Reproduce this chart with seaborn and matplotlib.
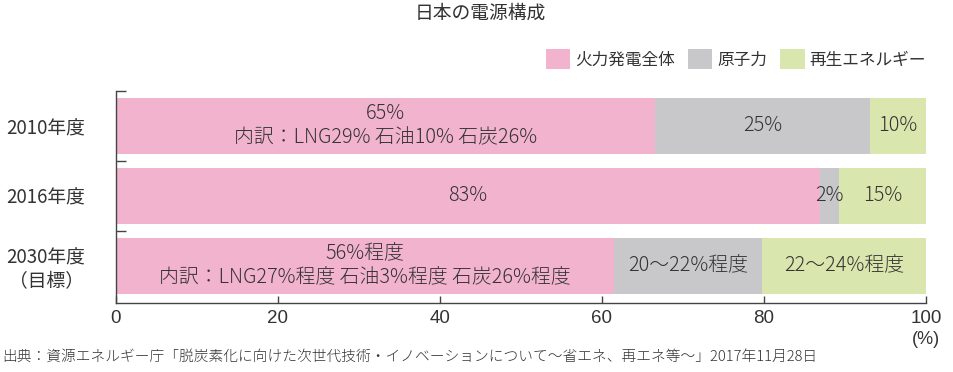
import numpy as np
import pandas as pd
import matplotlib.pyplot as plt
import seaborn as sns
from matplotlib.patches import Patch

# Data (segment widths, labels as printed)
years = ['2010年度', '2016年度', '2030年度\n（目標）']
thermal = [66.6, 86.9, 61.5]
nuclear = [26.5, 2.3, 18.3]
renewable = [6.9, 10.8, 20.2]
thermal_labels = ['65%\n内訳：LNG29% 石油10% 石炭26%', '83%',
                  '56%程度\n内訳：LNG27%程度 石油3%程度 石炭26%程度']
nuclear_labels = ['25%', '2%', '20〜22%程度']
renewable_labels = ['10%', '15%', '22〜24%程度']
sources = ['火力発電全体', '原子力', '再生エネルギー']
colors = ['#f2b3cf', '#c8c8ca', '#d9e6ad']

sns.set_theme(style='white')
plt.rcParams['font.family'] = ['Noto Sans CJK JP', 'DejaVu Sans']
text_color = '#333333'

df = pd.DataFrame({'year': years, 'thermal': thermal,
                   'nuclear': nuclear, 'renewable': renewable})
df['cum_nuclear'] = df['thermal'] + df['nuclear']
df['total'] = df['cum_nuclear'] + df['renewable']

fig = plt.figure(figsize=(9.54, 3.72), dpi=100)
ax = fig.add_axes([116 / 954, 1 - 303 / 372, 810 / 954, 212 / 372])

# stacked bars drawn back to front
for col, c in zip(['total', 'cum_nuclear', 'thermal'], colors[::-1]):
    sns.barplot(data=df, x=col, y='year', color=c, saturation=1,
                width=0.79, linewidth=0, ax=ax)

# labels inside segments
lbl = dict(ha='center', va='center', fontsize=14.3, color=text_color,
           fontweight='light')
for i in range(len(years)):
    t, n, r = thermal[i], nuclear[i], renewable[i]
    ax.text(t / 2, i, thermal_labels[i], linespacing=1.2, **lbl)
    ax.text(t + n / 2, i, nuclear_labels[i], **lbl)
    ax.text(t + n + r / 2, i, renewable_labels[i], **lbl)

ax.set_xlim(0, 100)
ax.set_ylim(2.53, -0.5)
ax.set_xlabel('')
ax.set_ylabel('')

ax.set_xticks([0, 20, 40, 60, 80, 100])
ax.set_xticklabels(['0', '20', '40', '60', '80', '100'],
                   family='Liberation Sans', fontsize=13.5, color=text_color)
ax.tick_params(axis='x', direction='in', length=5, width=1, color='#444444', pad=5)

ax.set_yticks([-0.5, 0.5, 1.5])
ax.set_yticklabels([])
ax.set_yticks([0, 1, 2], minor=True)
ax.set_yticklabels(years, minor=True, fontsize=13.5, color=text_color)
for lab in ax.get_yticklabels(minor=True):
    lab.set_multialignment('center')
ax.tick_params(axis='y', which='major', direction='in', length=7, width=1,
               color='#444444', left=True)
ax.tick_params(axis='y', which='minor', length=0, pad=22)
ax.tick_params(axis='x', bottom=True)

sns.despine(ax=ax, top=True, right=True)
for s in ['left', 'bottom']:
    ax.spines[s].set_color('#444444')
    ax.spines[s].set_linewidth(1)

handles = [Patch(facecolor=c, edgecolor='none') for c in colors]
ax.legend(handles, sources, loc='center right', bbox_to_anchor=(1.0, 1 + 32 / 212),
          ncol=3, frameon=False, fontsize=12, handlelength=1.45, handleheight=1.45,
          handletextpad=0.3, columnspacing=0.8, borderpad=0, borderaxespad=0,
          labelcolor=text_color)

fig.text(480 / 954, 1 - 13 / 372, '日本の電源構成', ha='center', va='center',
         fontsize=13.5, color=text_color)
fig.text(940 / 954, 1 - 340 / 372, '(%)', ha='right', va='center',
         family='Liberation Sans', fontsize=13, color=text_color)
fig.text(2 / 954, 1 - 357 / 372,
         '出典：資源エネルギー庁「脱炭素化に向けた次世代技術・イノベーションについて〜省エネ、再エネ等〜」2017年11月28日',
         ha='left', va='center', fontsize=10.6, color=text_color,
         fontweight='light')

fig.savefig('out.png', dpi=100)
